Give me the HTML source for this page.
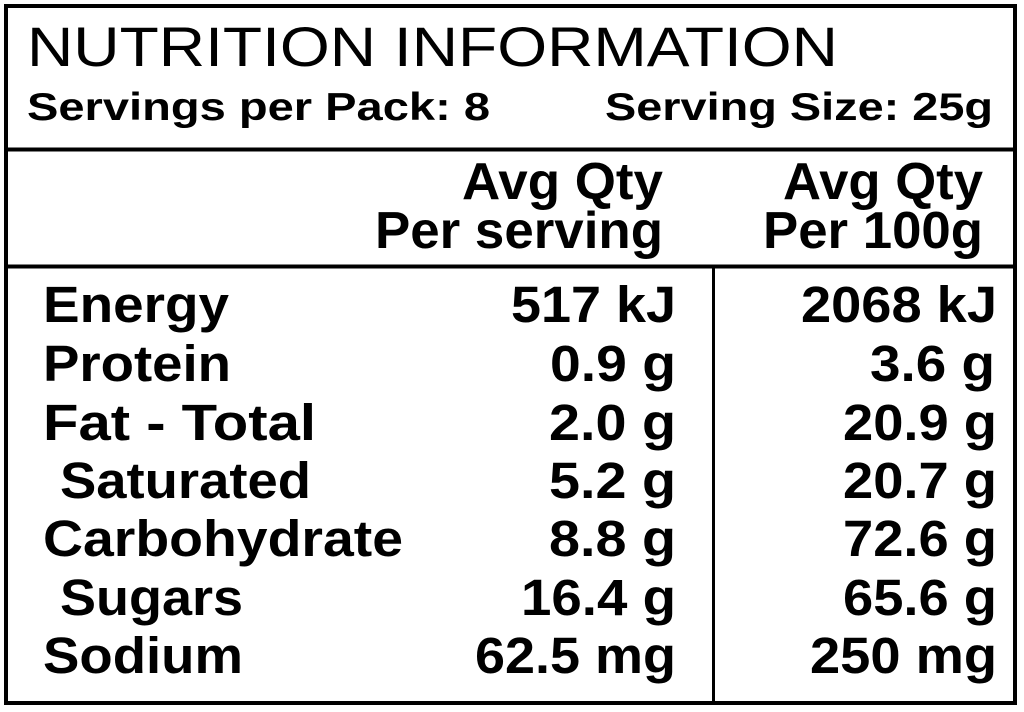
<!DOCTYPE html>
<html><head><meta charset="utf-8"><style>
html,body{margin:0;padding:0;background:#fff;width:1024px;height:712px;overflow:hidden}
svg{display:block}
text{font-family:"Liberation Sans",Arial,sans-serif;fill:#000}
.b{font-weight:bold}
</style></head><body>
<svg width="1024" height="712" viewBox="0 0 1024 712">
<rect x="6" y="6" width="1009" height="697" fill="none" stroke="#000" stroke-width="4"/>
<line x1="6" y1="149.5" x2="1015" y2="149.5" stroke="#000" stroke-width="4"/>
<line x1="6" y1="266.5" x2="1015" y2="266.5" stroke="#000" stroke-width="4"/>
<line x1="713.5" y1="266" x2="713.5" y2="703" stroke="#000" stroke-width="3"/>

<text x="27" y="66" font-size="56" textLength="811" lengthAdjust="spacingAndGlyphs">NUTRITION INFORMATION</text>
<text class="b" x="27" y="120" font-size="39" textLength="463" lengthAdjust="spacingAndGlyphs">Servings per Pack: 8</text>
<text class="b" x="605" y="120" font-size="39" textLength="388" lengthAdjust="spacingAndGlyphs">Serving Size: 25g</text>

<g text-anchor="end" class="b" font-size="52">
<text x="663" y="199" textLength="201" lengthAdjust="spacingAndGlyphs">Avg Qty</text>
<text x="663" y="248" textLength="288" lengthAdjust="spacingAndGlyphs">Per serving</text>
<text x="983" y="199" textLength="200" lengthAdjust="spacingAndGlyphs">Avg Qty</text>
<text x="983" y="248" textLength="220" lengthAdjust="spacingAndGlyphs">Per 100g</text>
</g>

<g class="b" font-size="51">
<text x="43" y="322" textLength="186" lengthAdjust="spacingAndGlyphs">Energy</text>
<text x="43" y="381" textLength="188" lengthAdjust="spacingAndGlyphs">Protein</text>
<text x="43" y="440" textLength="273" lengthAdjust="spacingAndGlyphs">Fat - Total</text>
<text x="60" y="498" textLength="251" lengthAdjust="spacingAndGlyphs">Saturated</text>
<text x="43" y="556" textLength="360" lengthAdjust="spacingAndGlyphs">Carbohydrate</text>
<text x="60" y="615" textLength="183" lengthAdjust="spacingAndGlyphs">Sugars</text>
<text x="43" y="673" textLength="200" lengthAdjust="spacingAndGlyphs">Sodium</text>
</g>

<g class="b" font-size="51" text-anchor="end">
<text x="676" y="322" textLength="165" lengthAdjust="spacingAndGlyphs">517 kJ</text>
<text x="676" y="381" textLength="126" lengthAdjust="spacingAndGlyphs">0.9 g</text>
<text x="676" y="440" textLength="127" lengthAdjust="spacingAndGlyphs">2.0 g</text>
<text x="676" y="498" textLength="127" lengthAdjust="spacingAndGlyphs">5.2 g</text>
<text x="676" y="556" textLength="127" lengthAdjust="spacingAndGlyphs">8.8 g</text>
<text x="676" y="615" textLength="155" lengthAdjust="spacingAndGlyphs">16.4 g</text>
<text x="676" y="673" textLength="201" lengthAdjust="spacingAndGlyphs">62.5 mg</text>
<text x="997" y="322" textLength="196" lengthAdjust="spacingAndGlyphs">2068 kJ</text>
<text x="995" y="381" textLength="125" lengthAdjust="spacingAndGlyphs">3.6 g</text>
<text x="997" y="440" textLength="154" lengthAdjust="spacingAndGlyphs">20.9 g</text>
<text x="997" y="498" textLength="154" lengthAdjust="spacingAndGlyphs">20.7 g</text>
<text x="997" y="556" textLength="154" lengthAdjust="spacingAndGlyphs">72.6 g</text>
<text x="997" y="615" textLength="154" lengthAdjust="spacingAndGlyphs">65.6 g</text>
<text x="997" y="673" textLength="187" lengthAdjust="spacingAndGlyphs">250 mg</text>
</g>
</svg>
</body></html>
